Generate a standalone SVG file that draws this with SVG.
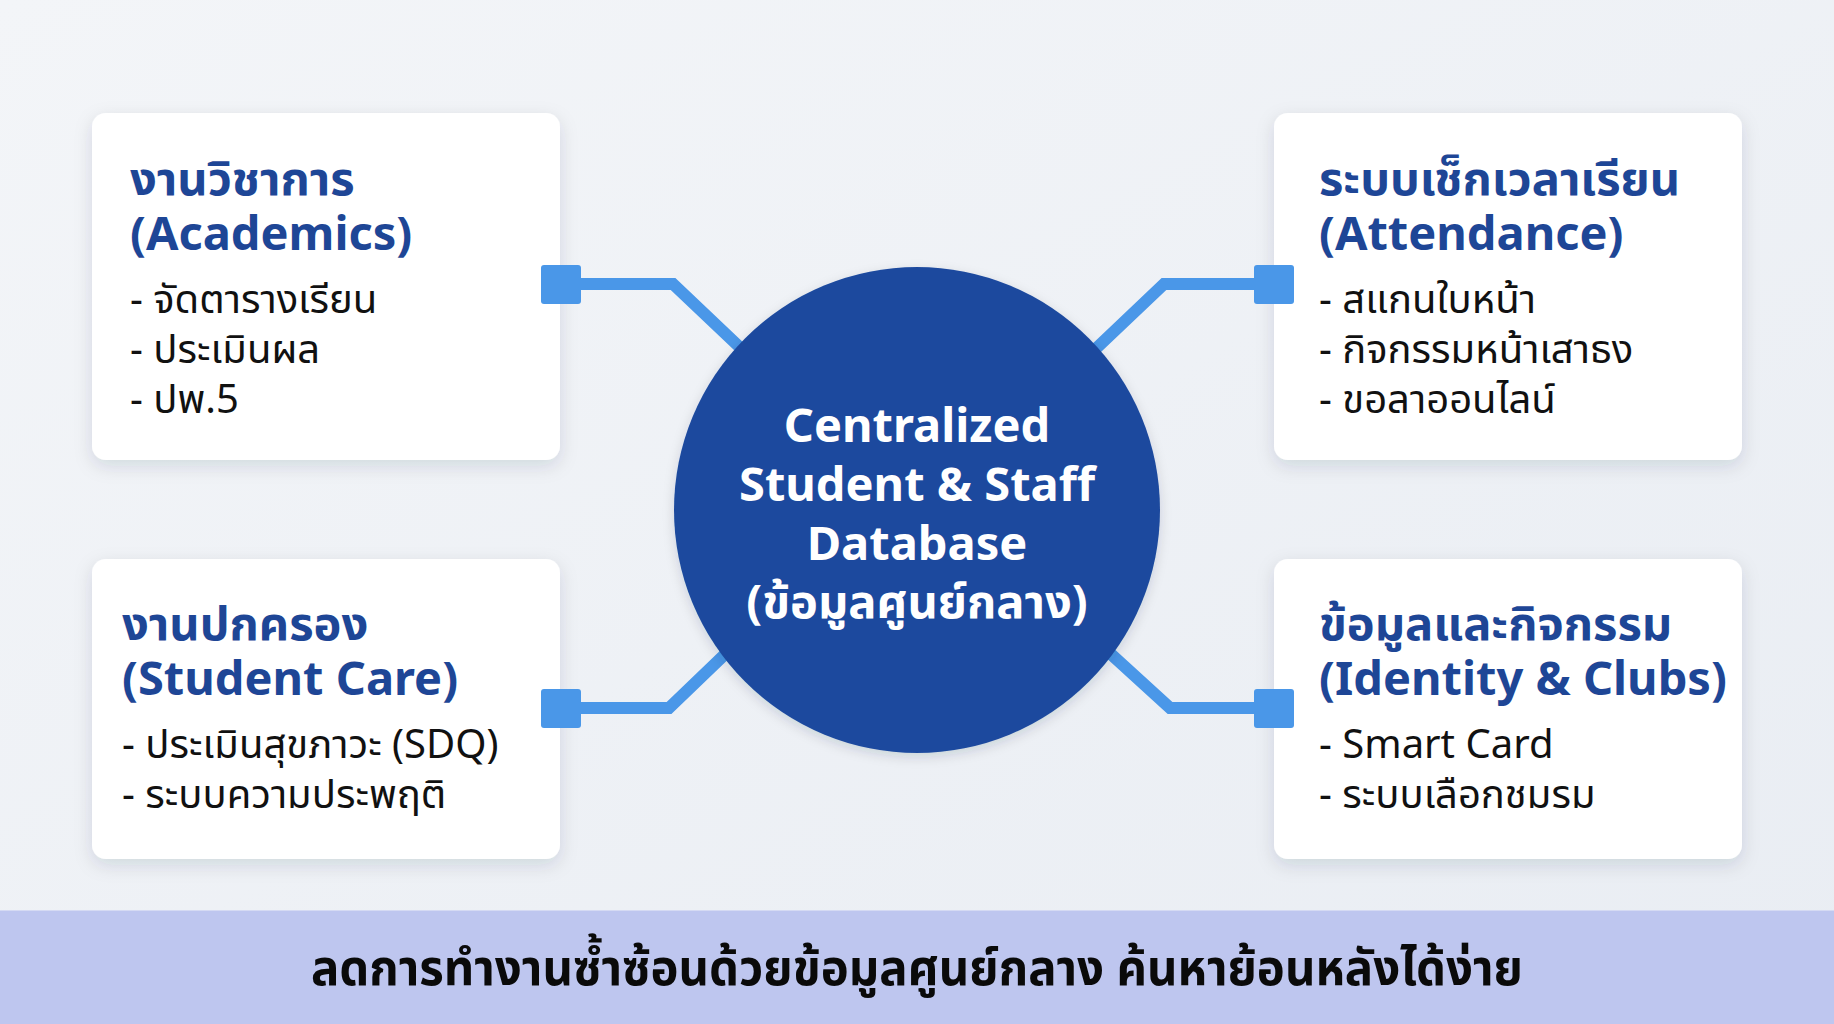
<svg xmlns="http://www.w3.org/2000/svg" width="1834" height="1024" viewBox="0 0 1834 1024">
  <defs>
    <linearGradient id="bg" x1="0" y1="0" x2="1" y2="1">
      <stop offset="0" stop-color="#F3F5F8"/>
      <stop offset="1" stop-color="#E9EDF3"/>
    </linearGradient>
    <filter id="shadow" x="-10%" y="-10%" width="120%" height="130%">
      <feDropShadow dx="0" dy="6" stdDeviation="9" flood-color="#1E2A44" flood-opacity="0.13"/>
    </filter>
    <filter id="cshadow" x="-10%" y="-10%" width="120%" height="120%">
      <feDropShadow dx="0" dy="4" stdDeviation="6" flood-color="#1E2A44" flood-opacity="0.15"/>
    </filter>
  </defs>
  <style>
    .card { fill: #FFFFFF; filter: url(#shadow); }
    .title { font-family: "Noto Sans", "Noto Sans Thai", "Open Sans", sans-serif; font-weight: 700; font-size: 47px; fill: #1E4696; }
    .body { font-family: "Noto Sans", "Noto Sans Thai", "Open Sans", sans-serif; font-weight: 400; font-size: 40px; fill: #111111; }
    .ctext { font-family: "Noto Sans", "Noto Sans Thai", "Open Sans", sans-serif; font-weight: 700; font-size: 47px; fill: #FFFFFF; text-anchor: middle; }
    .conn { fill: none; stroke: #4A97E8; stroke-width: 12; stroke-linejoin: miter; }
    .port { fill: #4A97E8; }
    .banner { font-family: "Noto Sans", "Noto Sans Thai", sans-serif; font-weight: 700; font-size: 50px; fill: #0A0A0A; text-anchor: middle; }
  </style>

  <rect x="0" y="0" width="1834" height="1024" fill="url(#bg)"/>

  <g id="card-academics">
    <rect class="card" x="92" y="113" width="468" height="347" rx="14"/>
    <text class="title" x="130" y="195">งานวิชาการ</text>
    <text class="title" x="130" y="250">(Academics)</text>
    <text class="body" x="130" y="313">- จัดตารางเรียน</text>
    <text class="body" x="130" y="363">- ประเมินผล</text>
    <text class="body" x="130" y="413">- ปพ.5</text>
  </g>

  <g id="card-attendance">
    <rect class="card" x="1274" y="113" width="468" height="347" rx="14"/>
    <text class="title" x="1319" y="195">ระบบเช็กเวลาเรียน</text>
    <text class="title" x="1319" y="250">(Attendance)</text>
    <text class="body" x="1319" y="313">- สแกนใบหน้า</text>
    <text class="body" x="1319" y="363">- กิจกรรมหน้าเสาธง</text>
    <text class="body" x="1319" y="413">- ขอลาออนไลน์</text>
  </g>

  <g id="card-student-care">
    <rect class="card" x="92" y="559" width="468" height="300" rx="14"/>
    <text class="title" x="122" y="640">งานปกครอง</text>
    <text class="title" x="122" y="695">(Student Care)</text>
    <text class="body" x="122" y="758">- ประเมินสุขภาวะ (SDQ)</text>
    <text class="body" x="122" y="808">- ระบบความประพฤติ</text>
  </g>

  <g id="card-identity">
    <rect class="card" x="1274" y="559" width="468" height="300" rx="14"/>
    <text class="title" x="1319" y="640">ข้อมูลและกิจกรรม</text>
    <text class="title" x="1319" y="695">(Identity &amp; Clubs)</text>
    <text class="body" x="1319" y="758">- Smart Card</text>
    <text class="body" x="1319" y="808">- ระบบเลือกชมรม</text>
  </g>

  <g id="connectors">
    <path class="conn" d="M575 284 L673 284 L750 357"/>
    <path class="conn" d="M1260 284 L1164 284 L1085 359"/>
    <path class="conn" d="M575 708 L669 708 L745 635"/>
    <path class="conn" d="M1260 708 L1170 708 L1090 635"/>
    <rect class="port" x="541" y="265" width="40" height="39" rx="3"/>
    <rect class="port" x="1254" y="265" width="40" height="39" rx="3"/>
    <rect class="port" x="541" y="689" width="40" height="39" rx="3"/>
    <rect class="port" x="1254" y="689" width="40" height="39" rx="3"/>
  </g>

  <g id="central-database">
    <circle cx="917" cy="510" r="243" fill="#1C4A9E" filter="url(#cshadow)"/>
    <text class="ctext" x="917" y="442">Centralized</text>
    <text class="ctext" x="917" y="501">Student &amp; Staff</text>
    <text class="ctext" x="917" y="560">Database</text>
    <text class="ctext" x="917" y="618">(ข้อมูลศูนย์กลาง)</text>
  </g>

  <g id="banner">
    <rect x="0" y="910" width="1834" height="114" fill="#BEC6EF"/>
    <line x1="0" y1="910.5" x2="1834" y2="910.5" stroke="#D5DAF3" stroke-width="1"/>
    <text class="banner" x="917" y="985" textLength="1212" lengthAdjust="spacingAndGlyphs">ลดการทำงานซ้ำซ้อนด้วยข้อมูลศูนย์กลาง ค้นหาย้อนหลังได้ง่าย</text>
  </g>
</svg>
